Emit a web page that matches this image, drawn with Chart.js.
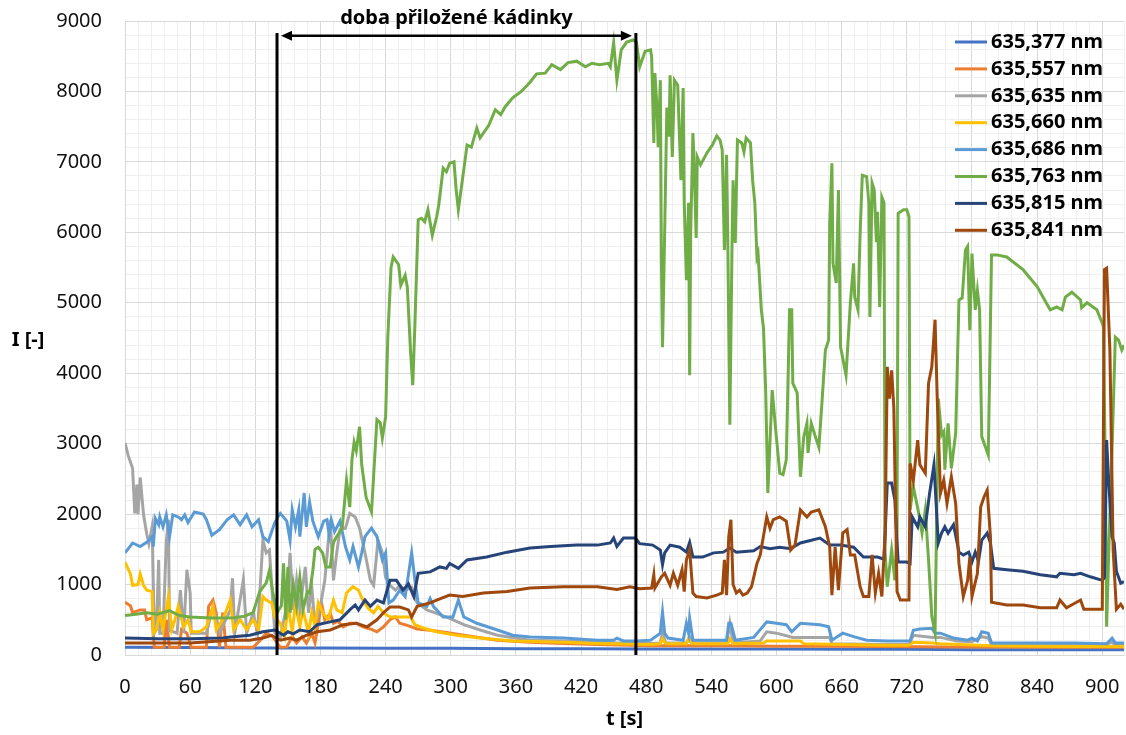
<!DOCTYPE html>
<html>
<head>
<meta charset="utf-8">
<script src="https://cdn.jsdelivr.net/npm/chart.js@4.4.1/dist/chart.umd.min.js"></script>
<style>
  html, body { margin: 0; padding: 0; background: #fff; }
</style>
</head>
<body>
<canvas id="chart" width="1126" height="735"></canvas>
<script>
// Intenzita čar v čase — [t (s), I (-)]
const labels = ['635,377 nm', '635,557 nm', '635,635 nm', '635,660 nm', '635,686 nm', '635,763 nm', '635,815 nm', '635,841 nm'];
const colors = ['#4472C4', '#ED7D31', '#A5A5A5', '#FFC000', '#5B9BD5', '#70AD47', '#264478', '#9E480E'];

const s377 = [[0,110],[60,105],[120,100],[180,100],[240,95],[300,95],[360,90],[420,90],[480,85],[540,85],[600,85],[660,80],[720,80],[780,75],[840,75],[900,75],[920,75]];

const s557 = [[0,750],[5,700],[7,600],[14,640],[18,640],[20,500],[25,530],[27,110],[36,110],[38,500],[41,110],[50,110],[52,360],[57,310],[61,110],[75,110],[77,690],[81,780],[84,600],[87,110],[90,600],[93,110],[112,110],[118,110],[124,200],[130,310],[136,260],[143,110],[149,115],[154,260],[158,170],[163,260],[167,170],[172,310],[175,170],[178,450],[181,740],[184,500],[189,590],[192,450],[196,480],[201,400],[207,450],[213,450],[219,400],[226,370],[232,330],[238,400],[244,500],[249,540],[253,450],[260,420],[269,370],[281,350],[296,320],[312,280],[343,210],[373,180],[404,165],[435,150],[484,130],[520,130],[560,130],[600,125],[640,125],[700,120],[760,115],[800,115],[860,110],[920,110]];

const s635 = [[0,3010],[3,2830],[7,2650],[9,2010],[11,2420],[12,2000],[14,2520],[15,2350],[17,2000],[20,1720],[22,1580],[25,1820],[27,310],[29,360],[31,1350],[32,310],[35,310],[38,1600],[40,1920],[41,350],[48,310],[51,920],[54,310],[57,1210],[60,880],[61,310],[75,310],[81,690],[87,310],[97,640],[99,1090],[101,310],[109,1070],[112,310],[118,600],[122,310],[127,1630],[130,1450],[133,1490],[138,310],[143,255],[149,700],[152,1450],[155,640],[158,1060],[161,640],[166,1250],[169,600],[172,970],[175,410],[180,700],[184,1060],[189,1920],[192,1060],[195,1450],[198,1780],[203,1800],[207,2010],[212,1960],[216,1800],[221,1450],[226,1060],[229,990],[233,1630],[237,1450],[240,1100],[244,990],[249,920],[253,990],[258,920],[264,960],[269,740],[278,640],[287,590],[299,520],[312,430],[327,355],[343,280],[373,210],[404,200],[435,180],[465,165],[484,165],[493,170],[495,310],[498,170],[517,170],[520,260],[523,170],[554,170],[557,450],[560,170],[585,200],[591,330],[600,310],[615,250],[640,250],[649,250],[651,160],[700,150],[722,150],[726,280],[744,250],[751,250],[766,200],[780,190],[789,260],[795,240],[798,150],[860,140],[900,135],[909,180],[912,140],[920,135]];

const s660 = [[0,1320],[5,1150],[7,990],[12,1000],[14,1150],[17,990],[20,920],[25,900],[26,310],[29,360],[32,600],[35,360],[40,830],[43,360],[46,500],[49,690],[54,400],[58,500],[61,330],[69,330],[75,400],[81,690],[84,360],[90,500],[97,780],[100,360],[106,500],[112,360],[118,500],[123,360],[127,830],[130,780],[135,740],[138,540],[143,450],[147,260],[150,700],[154,330],[157,740],[161,400],[164,640],[169,310],[172,600],[175,410],[178,740],[183,580],[187,500],[192,780],[195,640],[200,600],[204,880],[210,970],[215,920],[219,780],[224,660],[229,600],[233,690],[238,600],[244,540],[253,540],[263,540],[267,430],[275,380],[287,330],[305,280],[327,240],[357,200],[404,180],[435,165],[484,150],[493,160],[495,230],[498,160],[517,160],[519,230],[522,160],[555,160],[557,230],[560,160],[588,170],[591,200],[622,200],[625,160],[700,140],[722,140],[726,180],[744,170],[751,160],[798,130],[860,120],[920,120]];

const s686 = [[0,1450],[7,1590],[14,1540],[21,1610],[25,1680],[26,1540],[28,1940],[31,1850],[32,1960],[35,1820],[38,1990],[41,1680],[44,1990],[49,1960],[52,1920],[55,1990],[58,1880],[64,2030],[72,2000],[75,1920],[80,1700],[87,1780],[94,1920],[100,1990],[106,1850],[112,1990],[117,1820],[123,1920],[127,1680],[132,1610],[135,1750],[138,1880],[142,1990],[143,2010],[149,1900],[152,1630],[154,2060],[157,1820],[160,2060],[161,1680],[165,2300],[167,1820],[170,2170],[173,1900],[178,1680],[183,1900],[186,1920],[188,1710],[190,1920],[193,1750],[198,1900],[203,1540],[207,1350],[210,1540],[215,1250],[218,1450],[221,1680],[227,1800],[232,1680],[237,1350],[240,1450],[243,740],[247,780],[253,920],[258,830],[264,1450],[267,1060],[270,740],[278,690],[281,800],[284,690],[293,540],[302,540],[307,780],[312,540],[324,450],[343,355],[357,280],[373,255],[404,240],[435,210],[450,210],[453,240],[459,200],[471,200],[484,210],[493,310],[495,610],[497,310],[500,240],[514,210],[517,450],[519,310],[520,520],[523,210],[554,210],[556,450],[558,450],[562,210],[579,250],[591,470],[600,450],[609,430],[614,330],[622,450],[640,430],[648,400],[651,210],[661,310],[671,260],[683,210],[702,200],[723,200],[726,350],[732,370],[743,380],[746,310],[751,310],[763,240],[776,210],[780,240],[785,200],[789,330],[795,310],[798,170],[843,170],[874,170],[904,160],[909,240],[912,170],[920,170]];

const s763 = [[0,560],[10,580],[20,600],[30,580],[41,630],[50,560],[60,540],[80,525],[100,530],[110,550],[118,600],[124,900],[130,1020],[133,1200],[136,900],[140,600],[144,700],[146,1300],[148,500],[150,1250],[152,600],[155,1000],[158,700],[161,1100],[164,650],[168,900],[170,880],[173,1200],[175,1500],[178,1530],[182,1450],[185,1250],[189,1250],[192,1600],[195,1680],[200,1800],[204,2480],[207,2100],[209,2770],[211,3020],[213,2900],[216,3240],[218,2700],[222,2240],[227,2030],[232,3340],[235,3300],[237,3080],[240,3380],[242,4500],[245,5500],[247,5650],[252,5540],[254,5250],[258,5390],[260,5220],[263,4300],[265,3830],[267,4700],[270,6180],[273,6200],[276,6150],[279,6320],[283,5960],[287,6220],[289,6390],[293,6910],[296,6860],[299,6980],[303,7000],[305,6600],[307,6320],[312,6890],[315,7240],[319,7210],[324,7480],[327,7340],[335,7520],[341,7740],[346,7670],[350,7780],[357,7910],[365,8000],[373,8130],[379,8250],[387,8260],[393,8380],[401,8310],[408,8410],[416,8430],[424,8350],[430,8400],[437,8380],[445,8400],[447,8350],[450,8690],[453,8160],[457,8590],[462,8700],[468,8730],[471,8700],[474,8350],[479,8570],[484,8590],[485,8490],[487,7270],[488,8260],[490,7740],[491,7210],[493,8160],[494,5560],[495,4370],[497,6000],[499,7770],[501,7360],[502,8230],[504,7070],[506,8160],[509,8090],[512,6740],[514,8050],[515,6420],[517,5320],[519,6420],[520,3970],[521,6030],[523,7410],[524,7030],[526,5920],[527,7070],[530,6960],[536,7130],[541,7240],[545,7370],[548,7310],[550,7170],[552,5750],[554,7100],[555,6030],[557,3270],[559,5790],[560,6740],[562,5850],[564,7310],[568,7270],[570,7140],[572,7340],[576,7270],[578,6740],[580,6420],[582,5650],[583,5700],[586,4900],[588,4640],[590,3760],[592,2300],[596,3760],[599,3240],[603,2580],[606,2560],[609,2770],[612,4900],[614,4900],[615,3860],[619,3720],[622,2530],[625,3090],[628,3290],[629,2870],[632,3290],[636,3090],[639,2950],[642,3620],[645,4330],[648,4470],[649,6130],[651,6980],[652,5560],[655,5280],[657,6600],[659,4370],[664,3970],[668,5000],[671,5560],[672,5080],[675,4900],[677,5990],[679,6810],[683,6790],[685,6420],[686,4800],[688,6700],[690,6600],[692,5860],[693,6290],[695,4940],[697,6500],[699,6420],[700,1450],[702,970],[706,1490],[709,1060],[711,1770],[712,6270],[717,6320],[720,6320],[722,6220],[723,2060],[726,2390],[731,2010],[734,1730],[737,2060],[740,1350],[743,550],[746,320],[749,3640],[752,3120],[754,3170],[755,2630],[758,3290],[761,2650],[765,3150],[768,5040],[771,5070],[774,5750],[776,5800],[778,4610],[780,5700],[783,4900],[785,5180],[787,4900],[789,3100],[795,2840],[796,3760],[798,5680],[803,5680],[812,5650],[827,5470],[840,5230],[852,4900],[858,4940],[863,4900],[866,5080],[872,5150],[880,5040],[881,4930],[886,5000],[895,4900],[900,4710],[901,4660],[903,2440],[904,400],[906,1490],[909,2910],[912,4510],[915,4470],[918,4330],[920,4400]];

const s815 = [[0,240],[30,230],[60,230],[90,240],[97,255],[115,280],[127,330],[138,355],[146,280],[150,330],[155,300],[161,355],[170,330],[177,430],[189,470],[198,500],[207,640],[212,710],[215,640],[221,780],[226,690],[232,780],[238,740],[244,1060],[250,1060],[256,920],[261,1010],[266,830],[270,1160],[281,1180],[290,1250],[296,1230],[299,1300],[307,1230],[315,1350],[333,1390],[352,1460],[373,1520],[392,1540],[416,1560],[435,1560],[447,1590],[450,1660],[453,1540],[459,1660],[470,1660],[474,1580],[486,1560],[493,1490],[495,1280],[497,1450],[502,1560],[511,1530],[517,1460],[520,1600],[523,1390],[532,1390],[542,1450],[551,1460],[557,1520],[563,1460],[579,1480],[585,1540],[594,1510],[603,1530],[613,1510],[622,1590],[640,1660],[649,1560],[659,1560],[671,1530],[680,1390],[693,1390],[699,1360],[702,2440],[706,2440],[709,2200],[712,1320],[720,1320],[723,1300],[725,1960],[730,1820],[732,1960],[737,1820],[741,2300],[745,2700],[749,1590],[752,1730],[755,1820],[758,1730],[763,1850],[768,1460],[772,1420],[777,1460],[780,1320],[783,1460],[786,1330],[789,1630],[794,1730],[797,1590],[800,1230],[812,1210],[827,1190],[843,1140],[858,1110],[861,1160],[874,1140],[880,1160],[889,1110],[900,1060],[902,1100],[904,3050],[906,2440],[909,1680],[911,1590],[913,1190],[917,1020],[920,1040]];

const s841 = [[0,170],[30,170],[60,170],[97,210],[115,210],[127,240],[135,280],[143,210],[152,240],[158,210],[167,280],[177,330],[189,355],[201,430],[213,450],[223,400],[232,500],[238,600],[244,680],[253,680],[261,640],[264,540],[269,690],[281,740],[287,780],[299,850],[311,830],[330,880],[352,900],[373,950],[404,970],[435,970],[453,930],[465,970],[474,940],[485,950],[487,1140],[488,950],[494,1110],[497,1160],[502,990],[505,1160],[509,990],[513,1210],[515,900],[517,1350],[520,1490],[523,880],[526,830],[536,810],[545,850],[550,880],[552,1350],[554,850],[556,1680],[558,1920],[560,1000],[563,880],[566,920],[569,850],[573,880],[577,970],[582,1300],[585,1420],[591,1960],[594,1800],[597,1920],[603,1960],[609,1900],[613,1490],[617,1560],[622,2060],[628,1960],[632,2030],[639,2060],[645,1820],[649,1530],[651,850],[654,1530],[657,920],[661,1730],[665,1780],[668,1420],[672,1420],[677,970],[680,830],[685,830],[688,1420],[691,880],[694,1160],[697,830],[700,1730],[702,4090],[704,3640],[706,4040],[708,3520],[711,900],[714,780],[722,780],[723,2720],[726,2480],[730,3050],[732,2700],[737,2580],[740,3860],[743,4090],[746,4760],[748,3640],[751,2300],[754,2480],[757,2150],[761,2530],[765,2150],[768,1300],[772,830],[776,1060],[778,1390],[780,830],[785,1160],[788,2100],[791,2240],[794,2340],[797,1680],[798,750],[812,710],[827,710],[843,670],[858,670],[861,780],[867,670],[880,780],[883,650],[900,650],[902,5470],[904,5490],[907,4330],[910,1490],[913,650],[917,720],[920,650]];

const series = [s377, s557, s635, s660, s686, s763, s815, s841];

// doba přiložené kádinky (s)
const beakerStart = 140;
const beakerEnd = 470.5;
const markTop = 8830;
const arrowLevel = 8790;

const FONT = "'Noto Sans', 'Open Sans', sans-serif";

// popisky, šipka, svislé čáry a legenda
const overlay = {
  id: 'overlay',
  afterDraw(chart) {
    const { ctx, scales: { x, y } } = chart;
    const x1 = x.getPixelForValue(beakerStart);
    const x2 = x.getPixelForValue(beakerEnd);
    const yTop = y.getPixelForValue(markTop);
    const yBot = y.getPixelForValue(0);
    const yA = y.getPixelForValue(arrowLevel);

    ctx.save();
    ctx.strokeStyle = '#000';
    ctx.fillStyle = '#000';
    ctx.lineWidth = 3;
    ctx.beginPath();
    ctx.moveTo(x1, yTop); ctx.lineTo(x1, yBot);
    ctx.moveTo(x2, yTop); ctx.lineTo(x2, yBot);
    ctx.stroke();

    // oboustranná šipka
    const a1 = x1 + 4, a2 = x2 - 4;
    ctx.lineWidth = 2.5;
    ctx.beginPath();
    ctx.moveTo(a1 + 8, yA); ctx.lineTo(a2 - 8, yA);
    ctx.stroke();
    ctx.beginPath();
    ctx.moveTo(a1, yA); ctx.lineTo(a1 + 11, yA - 5); ctx.lineTo(a1 + 11, yA + 5); ctx.closePath();
    ctx.moveTo(a2, yA); ctx.lineTo(a2 - 11, yA - 5); ctx.lineTo(a2 - 11, yA + 5); ctx.closePath();
    ctx.fill();

    ctx.font = 'bold 20px ' + FONT;
    ctx.textAlign = 'center';
    ctx.textBaseline = 'middle';
    ctx.fillText('doba přiložené kádinky', (x1 + x2) / 2, 18);

    // názvy os
    ctx.font = 'bold 20px ' + FONT;
    ctx.fillText('I [-]', 28, 340);
    ctx.fillText('t [s]', (x.left + x.right) / 2, 719);

    // legenda
    ctx.font = 'bold 20px ' + FONT;
    ctx.textAlign = 'left';
    chart.data.datasets.forEach((ds, i) => {
      const ly = 42 + i * 26.9;
      ctx.strokeStyle = ds.borderColor;
      ctx.lineWidth = 3;
      ctx.beginPath();
      ctx.moveTo(955, ly); ctx.lineTo(987, ly);
      ctx.stroke();
      ctx.fillStyle = '#000';
      ctx.fillText(ds.label, 991, ly);
    });
    ctx.restore();
  }
};

const datasets = series.map((s, i) => ({
  label: labels[i],
  data: s.map(p => ({ x: p[0], y: p[1] })),
  borderColor: colors[i],
  backgroundColor: colors[i],
  borderWidth: 3,
  pointRadius: 0,
  tension: 0,
  fill: false,
  order: series.length - i
}));

const gridColor = (ctx, major) => ctx.tick && ctx.tick.value % major === 0 ? '#d9d9d9' : '#efefef';

new Chart(document.getElementById('chart'), {
  type: 'line',
  data: { datasets },
  options: {
    responsive: false,
    animation: false,
    layout: { padding: { top: 21, right: 2, left: 0, bottom: 0 } },
    plugins: { legend: { display: false }, tooltip: { enabled: false } },
    scales: {
      x: {
        type: 'linear',
        min: 0,
        max: 920,
        ticks: {
          stepSize: 12,
          autoSkip: false,
          maxRotation: 0,
          padding: 0,
          color: '#111',
          font: { family: FONT, size: 20 },
          callback: v => (v % 60 === 0 ? v : '')
        },
        grid: { color: c => gridColor(c, 60), drawTicks: true, tickLength: 20, tickColor: 'rgba(0,0,0,0)' },
        border: { color: '#d9d9d9' },
        afterFit: s => { s.height = 80; }
      },
      y: {
        min: 0,
        max: 9000,
        ticks: {
          stepSize: 200,
          autoSkip: false,
          padding: 0,
          color: '#111',
          font: { family: FONT, size: 20 },
          callback: v => (v % 1000 === 0 ? v : '')
        },
        grid: { color: c => gridColor(c, 1000), drawTicks: true, tickLength: 23, tickColor: 'rgba(0,0,0,0)' },
        border: { color: '#d9d9d9' },
        afterFit: s => { s.width = 125; }
      }
    }
  },
  plugins: [overlay]
});
</script>
</body>
</html>
